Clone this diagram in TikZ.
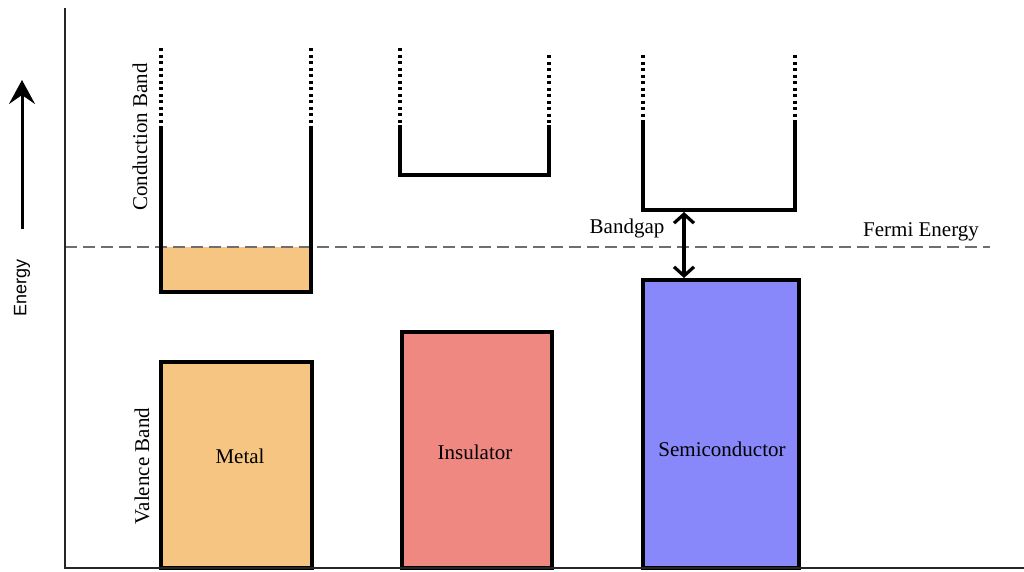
\documentclass[tikz,border=0pt]{standalone}
\usepackage{fontspec}
\setmainfont{Liberation Serif}
\newfontfamily\axisfont{Liberation Sans}
\usetikzlibrary{arrows.meta}
\definecolor{metalfill}{RGB}{246,197,130}
\definecolor{insfill}{RGB}{240,136,130}
\definecolor{semifill}{RGB}{136,136,250}
\definecolor{fermigray}{RGB}{110,110,110}
\tikzset{
  lbl/.style={font=\fontsize{21}{24}\selectfont, inner sep=0pt},
  vbox/.style={draw=black, line width=4pt, inner sep=0pt},
  cband/.style={line width=3.5pt, line join=miter},
  dotband/.style={line width=3.5pt, dash pattern=on 3pt off 3.5pt},
  axisline/.style={line width=2.8pt, draw=black!85},
  fermiline/.style={line width=1.4pt, draw=fermigray, dash pattern=on 12pt off 6pt},
}
\begin{document}
\begin{tikzpicture}[x=1pt,y=-1pt]
\useasboundingbox (0,0) rectangle (1024,571);

% Metal conduction band fill up to Fermi level
\fill[metalfill] (161,247) rectangle (311,292);

% Fermi line
\coordinate (fL) at (65,247);
\coordinate (fR) at (990,247);
\draw[fermiline] (fL) -- (fR);
\node[lbl] (fermi) at (921,232) {Fermi Energy};

% Conduction bands
\draw[cband] (161,128) -- (161,292) -- (311,292) -- (311,128);
\draw[dotband] (161,48) -- (161,128);
\draw[dotband] (311,48) -- (311,128);

\draw[cband] (400,125) -- (400,175) -- (549,175) -- (549,125);
\draw[dotband] (400,48) -- (400,125);
\draw[dotband] (549,55) -- (549,125);

\draw[cband] (643,122) -- (643,210) -- (795,210) -- (795,122);
\draw[dotband] (643,55) -- (643,122);
\draw[dotband] (795,55) -- (795,122);

% Valence bands
\node[vbox, fill=metalfill, minimum width=151pt, minimum height=206pt] (metal) at (236.5,465) {};
\node[vbox, fill=insfill, minimum width=150pt, minimum height=236pt] (ins) at (477,450) {};
\node[vbox, fill=semifill, minimum width=156pt, minimum height=288pt] (semi) at (721,424) {};
\node[lbl] (metalt) at (240,456) {Metal};
\node[lbl] (inst) at (475,452) {Insulator};
\node[lbl] (semit) at (722,449) {Semiconductor};

% Bandgap arrow
\coordinate (gapTop) at (684,212);
\coordinate (gapBot) at (684,278);
\draw[line width=3.2pt, {Straight Barb[length=9pt,width=20pt]}-{Straight Barb[length=9pt,width=20pt]}] (gapTop) -- (gapBot);
\node[lbl] (bandgap) at (627,228) {Bandgap};

% Axes
\coordinate (origin) at (65,568);
\coordinate (ytop) at (65,8);
\coordinate (xend) at (1024,568);
\draw[axisline] (ytop) -- (origin) -- (xend);

% Energy arrow and labels
\coordinate (eBot) at (22,229);
\coordinate (eTop) at (22,80);
\draw[line width=3pt, -{Stealth[length=24pt,width=26pt,inset=9pt]}] (eBot) -- (eTop);
\node[font=\axisfont\fontsize{18}{21}\selectfont, rotate=90, inner sep=0pt] (energy) at (22,288) {Energy};
\node[lbl, rotate=90] (cbl) at (140,137) {Conduction Band};
\node[lbl, rotate=90] (vbl) at (142,466) {Valence Band};
\end{tikzpicture}
\end{document}
